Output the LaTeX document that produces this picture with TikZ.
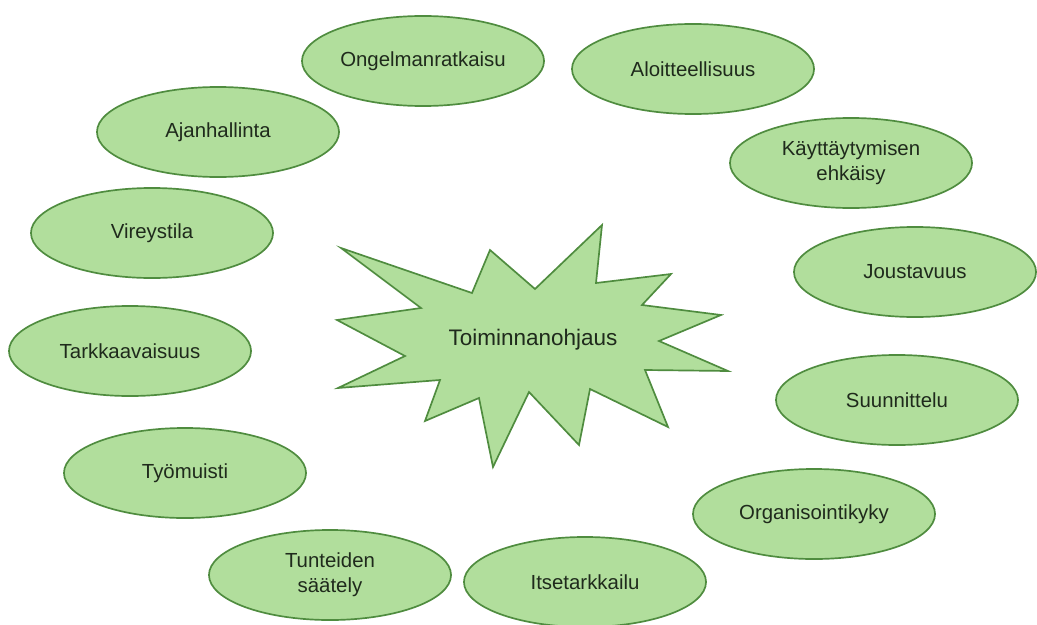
\documentclass[tikz,border=0pt]{standalone}
\usepackage{fontspec}
\setmainfont{Liberation Sans}
\usetikzlibrary{shapes}
\definecolor{verde}{HTML}{B1DE9C}
\definecolor{bordo}{HTML}{4F8C3F}
\definecolor{scritta}{HTML}{1F2A1C}
\tikzstyle{taito}=[ellipse, align=center, fill=verde, draw=bordo, line width=1.2pt, text=scritta, minimum width=6.05cm, minimum height=2.25cm, inner sep=0pt]
\tikzstyle{tahti}=[fill=verde, draw=bordo, line width=1.2pt, line join=miter]
\newcommand{\dtaito}{\fontsize{14.5}{17.5}\selectfont}
\newcommand{\dtahti}{\fontsize{16}{19}\selectfont}

\begin{document}
\begin{tikzpicture}[x=0.025cm, y=-0.025cm]
    \useasboundingbox (0,0) rectangle (1037,624);

    \draw [tahti] (341,248) -- (472,293) -- (490,250) -- (535,289) -- (602,225) -- (596,283) -- (671,274) -- (642,305)
        -- (721,315) -- (659,341) -- (728,371) -- (645,370) -- (668,427) -- (590,389) -- (579,445) -- (529,392)
        -- (493,467) -- (479,398) -- (425,421) -- (440,380) -- (338,388) -- (405,356) -- (337,320) -- (421,308) -- cycle;
    \node [font = \dtahti, text = scritta] (toim) at (533,340) {Toiminnanohjaus};

    \node [taito, font = \dtaito] (ongelma) at (423,61) {Ongelmanratkaisu};
    \node [taito, font = \dtaito] (aloite) at (693,69) {Aloitteellisuus};
    \node [taito, font = \dtaito] (estot) at (851,163) {Käyttäytymisen\\ehkäisy};
    \node [taito, font = \dtaito] (jousto) at (915,272) {Joustavuus};
    \node [taito, font = \dtaito] (suunn) at (897,400) {Suunnittelu};
    \node [taito, font = \dtaito] (organ) at (814,514) {Organisointikyky};
    \node [taito, font = \dtaito] (itse) at (585,582) {Itsetarkkailu};
    \node [taito, font = \dtaito] (tunne) at (330,575) {Tunteiden\\säätely};
    \node [taito, font = \dtaito] (muisti) at (185,473) {Työmuisti};
    \node [taito, font = \dtaito] (tarkka) at (130,351) {Tarkkaavaisuus};
    \node [taito, font = \dtaito] (vireys) at (152,233) {Vireystila};
    \node [taito, font = \dtaito] (ajan) at (218,132) {Ajanhallinta};
\end{tikzpicture}
\end{document}
